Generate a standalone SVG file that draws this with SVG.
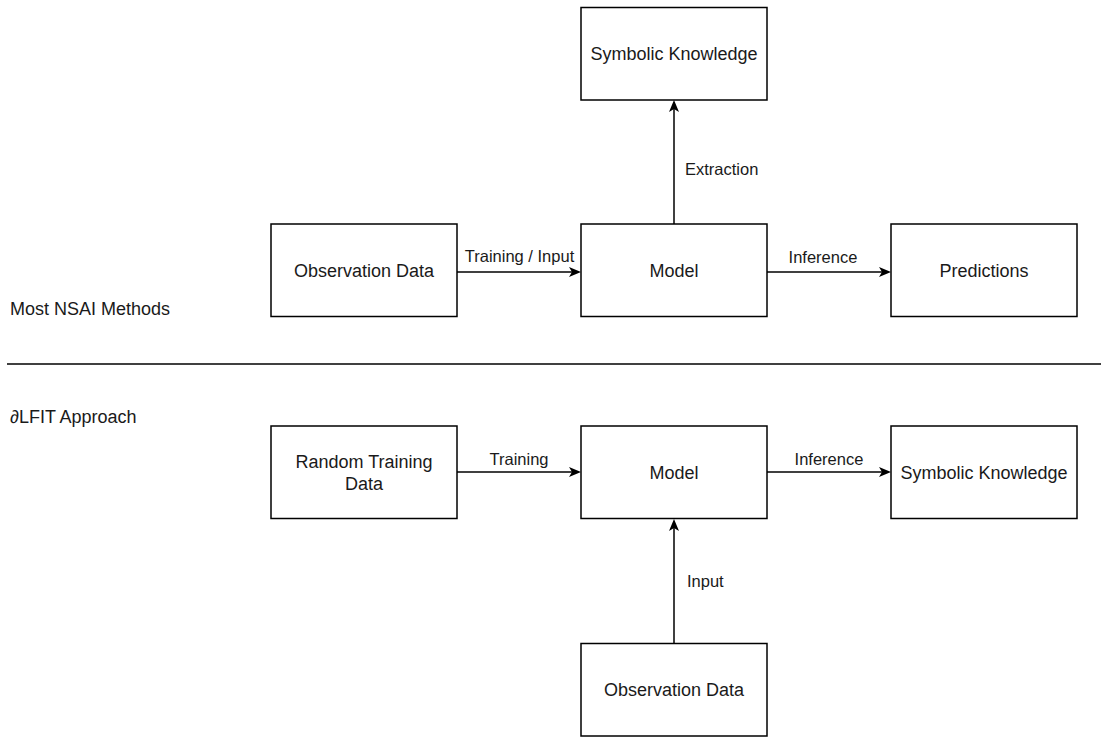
<svg xmlns="http://www.w3.org/2000/svg" width="1101" height="738" viewBox="0 0 1101 738">
  <style>
    .box { fill: #ffffff; stroke: #000000; stroke-width: 1.5; }
    .node-text { font-family: "Liberation Sans", Arial, sans-serif; font-size: 18px; fill: #1a1a1a; text-anchor: middle; }
    .edge { fill: none; stroke: #000000; stroke-width: 1.5; marker-end: url(#arrow); }
    .edge-label { font-family: "Liberation Sans", Arial, sans-serif; font-size: 16.5px; fill: #1a1a1a; }
    .section { font-family: "Liberation Sans", Arial, sans-serif; font-size: 18px; fill: #1a1a1a; }
    .divider { stroke: #000000; stroke-width: 1.5; }
  </style>
  <defs>
    <marker id="arrow" viewBox="0 0 12 10" refX="8" refY="5" markerWidth="12" markerHeight="10" markerUnits="userSpaceOnUse" orient="auto">
      <path d="M0,0 L12,5 L0,10 L3,5 Z" fill="#000000"/>
    </marker>
  </defs>
  <rect width="1101" height="738" fill="#ffffff"/>

  <!-- section captions and divider -->
  <g id="captions">
    <text class="section" x="10" y="315">Most NSAI Methods</text>
    <text class="section" x="10" y="423">∂LFIT Approach</text>
    <line class="divider" x1="7" y1="364" x2="1101" y2="364"/>
  </g>

  <!-- upper row: common neuro-symbolic pipeline -->
  <g id="sym-knowledge-top">
    <rect class="box" x="581" y="7.5" width="186" height="92.5"/>
    <text class="node-text" x="674" y="60">Symbolic Knowledge</text>
  </g>
  <g id="obs-data-top">
    <rect class="box" x="271" y="224" width="186" height="92.5"/>
    <text class="node-text" x="364" y="277">Observation Data</text>
  </g>
  <g id="model-top">
    <rect class="box" x="581" y="224" width="186" height="92.5"/>
    <text class="node-text" x="674" y="277">Model</text>
  </g>
  <g id="predictions">
    <rect class="box" x="891" y="224" width="186" height="92.5"/>
    <text class="node-text" x="984" y="277">Predictions</text>
  </g>

  <!-- lower row: dLFIT pipeline -->
  <g id="random-data">
    <rect class="box" x="271" y="426" width="186" height="92.5"/>
    <text class="node-text" x="364" y="468">Random Training</text>
    <text class="node-text" x="364" y="490">Data</text>
  </g>
  <g id="model-bottom">
    <rect class="box" x="581" y="426" width="186" height="92.5"/>
    <text class="node-text" x="674" y="479">Model</text>
  </g>
  <g id="sym-knowledge-bottom">
    <rect class="box" x="891" y="426" width="186" height="92.5"/>
    <text class="node-text" x="984" y="479">Symbolic Knowledge</text>
  </g>
  <g id="obs-data-bottom">
    <rect class="box" x="581" y="643.5" width="186" height="92.5"/>
    <text class="node-text" x="674" y="696">Observation Data</text>
  </g>

  <!-- connectors -->
  <g id="connectors">
    <line class="edge" x1="457" y1="272" x2="577" y2="272"/>
    <line class="edge" x1="767" y1="272" x2="887" y2="272"/>
    <line class="edge" x1="674" y1="224" x2="674" y2="104"/>
    <line class="edge" x1="457" y1="472" x2="577" y2="472"/>
    <line class="edge" x1="767" y1="472" x2="887" y2="472"/>
    <line class="edge" x1="674" y1="643.5" x2="674" y2="523"/>

    <text class="edge-label" x="519.5" y="262" text-anchor="middle">Training / Input</text>
    <text class="edge-label" x="823" y="263" text-anchor="middle">Inference</text>
    <text class="edge-label" x="685" y="175">Extraction</text>
    <text class="edge-label" x="519" y="465" text-anchor="middle">Training</text>
    <text class="edge-label" x="829" y="465" text-anchor="middle">Inference</text>
    <text class="edge-label" x="687" y="587">Input</text>
  </g>
</svg>
